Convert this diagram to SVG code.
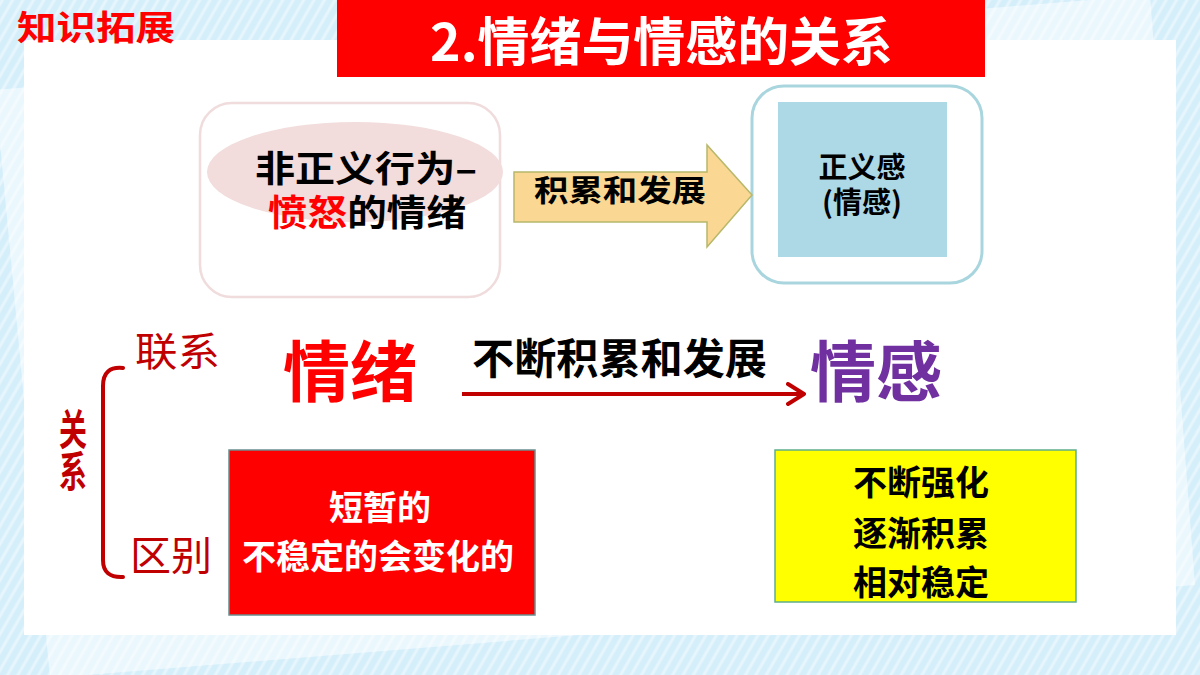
<svg xmlns="http://www.w3.org/2000/svg" width="1200" height="675" viewBox="0 0 1200 675">
  <defs>
    <pattern id="stripes" width="9" height="9" patternUnits="userSpaceOnUse" patternTransform="rotate(30)">
      <rect width="9" height="9" fill="none"/>
      <line x1="2" y1="0" x2="2" y2="9" stroke="#ffffff" stroke-opacity="0.45" stroke-width="3"/>
    </pattern>
    <marker id="chev" viewBox="0 0 20 24" markerWidth="20" markerHeight="24" refX="18" refY="12" orient="auto" markerUnits="userSpaceOnUse">
      <polyline points="2,2 18,12 2,22" fill="none" stroke="#c00000" stroke-width="4" stroke-linecap="round" stroke-linejoin="round"/>
    </marker>
  </defs>
  <style>
    text { font-family: "Noto Sans CJK SC", "Noto Sans", sans-serif; }
    .b { font-weight: bold; }
    .lbl { font-size: 40px; fill: #c00000; }
  </style>

  <!-- background -->
  <rect width="1200" height="675" fill="#d4eefa"/>
  <polygon points="-5,90 1150,-5 1195,585 50,678" fill="#eaf7fd"/>
  <rect width="1200" height="675" fill="url(#stripes)"/>
  <rect x="24" y="40" width="1152" height="595" fill="#ffffff"/>

  <!-- header -->
  <g id="tag">
    <text x="17" y="40" class="b" font-size="34" fill="#ff0000" textLength="158" lengthAdjust="spacingAndGlyphs">知识拓展</text>
  </g>
  <g id="title">
    <rect x="337" y="0" width="648" height="77" fill="#ff0000"/>
    <text x="430" y="61" class="b" font-size="52" fill="#ffffff" textLength="463" lengthAdjust="spacingAndGlyphs">2.情绪与情感的关系</text>
  </g>

  <!-- upper left node -->
  <g id="anger">
    <rect x="200" y="103" width="300" height="194" rx="32" fill="#ffffff" stroke="#f0dcdc" stroke-width="2.5"/>
    <ellipse cx="355" cy="172" rx="148" ry="50" fill="#f2dcdc"/>
    <text class="b" font-size="36" fill="#000000"><tspan x="255" y="182" textLength="222" lengthAdjust="spacingAndGlyphs">非正义行为–</tspan><tspan x="268" y="226" textLength="198" lengthAdjust="spacingAndGlyphs"><tspan fill="#ff0000">愤怒</tspan>的情绪</tspan></text>
  </g>

  <!-- upper right node -->
  <g id="justice">
    <rect x="752" y="86" width="230" height="197" rx="32" fill="#ffffff" stroke="#a9d6de" stroke-width="3"/>
    <rect x="778" y="102" width="169" height="155" fill="#add8e6"/>
    <text class="b" font-size="29" fill="#000000" text-anchor="middle"><tspan x="862" y="178">正义感</tspan><tspan x="862" y="213">(情感)</tspan></text>
  </g>

  <!-- lower left node -->
  <g id="emotion-box">
    <rect x="229" y="450" width="306" height="165" fill="#ff0000" stroke="#6b8e8e" stroke-width="1.5"/>
    <text class="b" font-size="34" fill="#ffffff" text-anchor="middle"><tspan x="380" y="520">短暂的</tspan><tspan x="378" y="569">不稳定的会变化的</tspan></text>
  </g>

  <!-- lower right node -->
  <g id="feeling-box">
    <rect x="775" y="450" width="301" height="152" fill="#ffff00" stroke="#5fae8a" stroke-width="1.5"/>
    <text class="b" font-size="34" fill="#000000" text-anchor="middle"><tspan x="921" y="495">不断强化</tspan><tspan x="921" y="546">逐渐积累</tspan><tspan x="921" y="595">相对稳定</tspan></text>
  </g>

  <!-- middle words -->
  <g id="qingxu">
    <text x="283" y="396" class="b" font-size="66" fill="#ff0000" textLength="134" lengthAdjust="spacingAndGlyphs">情绪</text>
  </g>
  <g id="qinggan">
    <text x="810" y="396" class="b" font-size="66" fill="#7030a0" textLength="132" lengthAdjust="spacingAndGlyphs">情感</text>
  </g>

  <!-- side labels -->
  <g id="relation">
    <text transform="translate(73,408) scale(1,1.5)" x="0" y="0" class="b" font-size="28" fill="#c00000" writing-mode="tb">关系</text>
  </g>
  <g id="link-label">
    <text x="135" y="366" class="lbl" textLength="85" lengthAdjust="spacingAndGlyphs">联系</text>
  </g>
  <g id="diff-label">
    <text x="130" y="570" class="lbl" textLength="82" lengthAdjust="spacingAndGlyphs">区别</text>
  </g>

  <!-- connectors -->
  <g id="connectors">
    <path d="M123,368 Q103,366 103,386 L103,560 Q103,578 123,577" fill="none" stroke="#c00000" stroke-width="4" stroke-linecap="round"/>
    <polygon points="514,172 707,172 707,145 752,195 707,247 707,222 514,222" fill="#fad894" stroke="#b7b86a" stroke-width="1.5"/>
    <text x="534" y="201" class="b" font-size="30" fill="#000000" textLength="172" lengthAdjust="spacingAndGlyphs">积累和发展</text>
    <line x1="462" y1="394" x2="804" y2="394" stroke="#c00000" stroke-width="4" marker-end="url(#chev)"/>
    <text x="472" y="374" class="b" font-size="42" fill="#000000" textLength="295" lengthAdjust="spacingAndGlyphs">不断积累和发展</text>
  </g>
</svg>
